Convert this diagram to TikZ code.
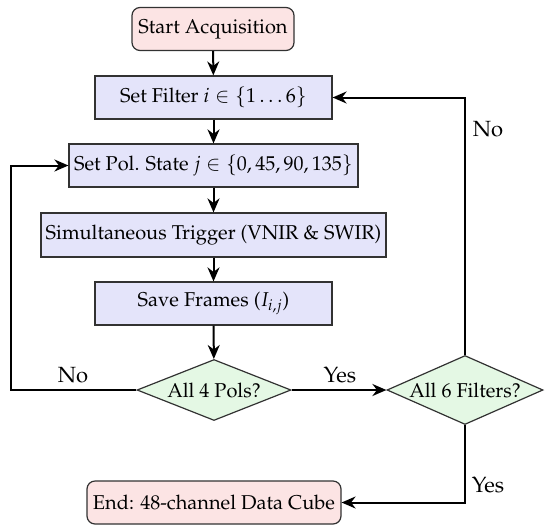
\documentclass[tikz,border=0pt]{standalone}
\usepackage[T1]{fontenc}
\usepackage{mathpazo}
\usetikzlibrary{shapes.geometric,arrows.meta}
\definecolor{termfill}{RGB}{252,228,228}
\definecolor{procfill}{RGB}{228,228,250}
\definecolor{decfill}{RGB}{228,248,228}
\definecolor{edgegray}{RGB}{50,50,50}
\tikzset{
  base/.style={draw=edgegray, line width=0.6pt, inner sep=0pt, align=center, font=\fontsize{10}{12}\selectfont},
  term/.style={base, fill=termfill, rounded corners=4pt, minimum height=21.5pt},
  proc/.style={base, fill=procfill, minimum height=21.5pt},
  dec/.style={base, diamond, fill=decfill},
  arr/.style={line width=1pt, -{Stealth[length=7pt,width=6pt]}},
  lbl/.style={font=\fontsize{11}{13}\selectfont, inner sep=0pt}
}
\begin{document}
\begin{tikzpicture}[x=0.5pt,y=-0.5pt]
\useasboundingbox (0,0) rectangle (550,530);
\node[term, minimum width=81pt] (start) at (213,29) {Start Acquisition};
\node[proc, minimum width=118.5pt] (filter) at (213.5,97.5) {Set Filter $i \in \{1\ldots6\}$};
\node[proc, minimum width=144.5pt] (pol) at (213.5,165.5) {Set Pol. State $j \in \{0,45,90,135\}$};
\node[proc, minimum width=172.5pt, minimum height=22pt] (trig) at (213.5,235) {Simultaneous Trigger (VNIR \& SWIR)};
\node[proc, minimum width=118.5pt] (save) at (213.5,303.5) {Save Frames ($I_{i,j}$)};
\node[dec, minimum width=77pt, minimum height=30.5pt] (d1) at (214,390) {\makebox[0pt]{All 4 Pols?}};
\node[dec, minimum width=78pt, minimum height=34.5pt] (d2) at (465,390) {\makebox[0pt]{All 6 Filters?}};
\node[term, minimum width=127pt] (end) at (214,502.5) {End: 48-channel Data Cube};
\coordinate (lc) at (11,390);
\draw[arr] (start) -- (filter);
\draw[arr] (filter) -- (pol);
\draw[arr] (pol) -- (trig);
\draw[arr] (trig) -- (save);
\draw[arr] (save) -- (d1);
\draw[arr] (d1.east) -- (d2.west);
\draw[arr] (d1.west) -- (lc) |- (pol.west);
\draw[arr] (d2.north) |- (filter.east);
\draw[arr] (d2.south) |- (end.east);
\node[lbl] (ln1) at (73,375) {No};
\node[lbl] (ly1) at (340,375) {Yes};
\node[lbl] (ln2) at (488,129) {No};
\node[lbl] (ly2) at (488,485) {Yes};
\end{tikzpicture}
\end{document}
